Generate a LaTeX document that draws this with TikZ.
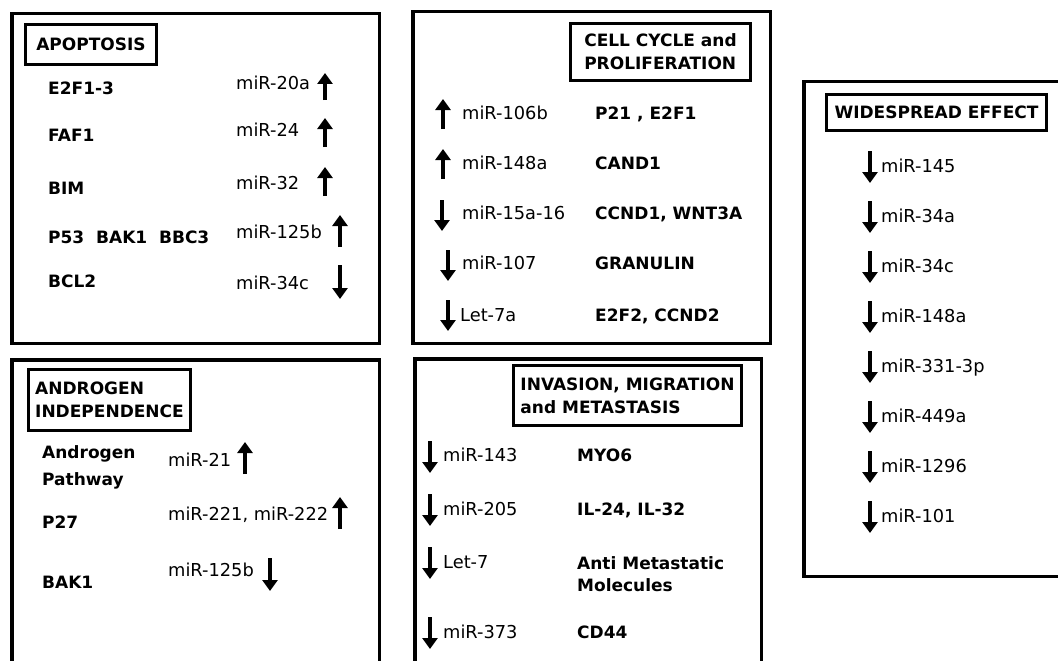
\documentclass[tikz,border=0pt]{standalone}
\usepackage{fontspec}
\setmainfont{DejaVu Sans}
\usetikzlibrary{arrows.meta}
\tikzset{
  panel/.style={draw,line width=3.5pt},
  head/.style={draw,line width=3.5pt,font=\bfseries\fontsize{17}{23}\selectfont,align=left,inner sep=0pt},
  gene/.style={anchor=west,inner sep=0pt,font=\bfseries\fontsize{17}{21}\selectfont,text height=12.4pt,text depth=0pt},
  mir/.style={anchor=west,inner sep=0pt,font=\fontsize{17.8}{21}\selectfont,text height=13pt,text depth=0pt},
  genes/.style={anchor=north west,inner sep=0pt,align=left},
  upar/.style={line width=4.5pt,-{Triangle[width=15pt,length=11pt]}},
  dnar/.style={line width=4.5pt,-{Triangle[width=15pt,length=11pt]}}
}

\begin{document}
\begin{tikzpicture}[x=1pt,y=-1pt,font=\fontsize{17}{21}\selectfont]
\useasboundingbox (0,0) rectangle (1058,661);
% panels
\draw[panel] (11.75,13.75) rectangle (379.25,343.25);
\draw[panel] (412.75,11.75) rectangle (770.25,343.25);
\draw[panel] (11.75,359.75) rectangle (379.25,700);
\draw[panel] (414.75,358.75) rectangle (761.25,700);
\draw[panel] (803.75,81.75) rectangle (1090,576.25);

% apoptosis
\node[head,minimum width=131pt,minimum height=40pt] (apoT) at (91,44.5) {APOPTOSIS};
\node[gene] (a1) at (48,88) {E2F1-3};
\node[gene] (a2) at (48,135) {FAF1};
\node[gene] (a3) at (48,188) {BIM};
\node[gene] (a4) at (48,237) {P53\ \ BAK1\ \ BBC3};
\node[gene] (a5) at (48,281) {BCL2};
\node[mir] (am1) at (236,83) {miR-20a};
\node[mir] (am2) at (236,130) {miR-24};
\node[mir] (am3) at (236,183) {miR-32};
\node[mir] (am4) at (236,232) {miR-125b};
\node[mir] (am5) at (236,283) {miR-34c};
\draw[upar] (325,100) -- (325,73);
\draw[upar] (325,147) -- (325,118);
\draw[upar] (325,196) -- (325,167);
\draw[upar] (340,247) -- (340,215);
\draw[dnar] (340,265) -- (340,299);

% cell cycle
\node[head,minimum width=180pt,minimum height=57pt] (cellT) at (660.5,52) {CELL CYCLE and\\PROLIFERATION};
\node[mir] (cm1) at (462,113) {miR-106b};
\node[mir] (cm2) at (462,163) {miR-148a};
\node[mir] (cm3) at (462,213) {miR-15a-16};
\node[mir] (cm4) at (462,263) {miR-107};
\node[mir] (cm5) at (460,315) {Let-7a};
\node[gene] (c1) at (595,113) {P21 , E2F1};
\node[gene] (c2) at (595,163) {CAND1};
\node[gene] (c3) at (595,213) {CCND1, WNT3A};
\node[gene] (c4) at (595,263) {GRANULIN};
\node[gene] (c5) at (595,315) {E2F2, CCND2};
\draw[upar] (443,129) -- (443,99);
\draw[upar] (443,179) -- (443,149);
\draw[dnar] (442,200) -- (442,231);
\draw[dnar] (448,250) -- (448,281);
\draw[dnar] (448,300) -- (448,331);

% androgen independence
\node[head,minimum width=162pt,minimum height=61pt] (andT) at (109.5,400) {ANDROGEN\\INDEPENDENCE};
\node[genes,font=\bfseries\fontsize{17}{27}\selectfont] (n1) at (42,445) {Androgen\\Pathway};
\node[gene] (n2) at (42,522) {P27};
\node[gene] (n3) at (42,582) {BAK1};
\node[mir] (nm1) at (168,460) {miR-21};
\node[mir] (nm2) at (168,514) {miR-221, miR-222};
\node[mir] (nm3) at (168,570) {miR-125b};
\draw[upar] (245,474) -- (245,442);
\draw[upar] (340,529) -- (340,497);
\draw[dnar] (270,558) -- (270,591);

% invasion
\node[head,minimum width=228pt,minimum height=60pt] (invT) at (627.5,395.5) {INVASION, MIGRATION\\and METASTASIS};
\node[mir] (im1) at (443,455) {miR-143};
\node[mir] (im2) at (443,509) {miR-205};
\node[mir] (im3) at (443,562) {Let-7};
\node[mir] (im4) at (443,632) {miR-373};
\node[gene] (i1) at (577,455) {MYO6};
\node[gene] (i2) at (577,509) {IL-24, IL-32};
\node[genes,font=\bfseries\fontsize{17}{22}\selectfont] (i3) at (577,556) {Anti Metastatic\\Molecules};
\node[gene] (i4) at (577,632) {CD44};
\draw[dnar] (430,441) -- (430,473);
\draw[dnar] (430,494) -- (430,526);
\draw[dnar] (430,547) -- (430,579);
\draw[dnar] (430,617) -- (430,649);

% widespread effect
\node[head,minimum width=220pt,minimum height=36pt] (wideT) at (936.5,112.5) {WIDESPREAD EFFECT};
\node[mir] (w1) at (881,166) {miR-145};
\node[mir] (w2) at (881,216) {miR-34a};
\node[mir] (w3) at (881,266) {miR-34c};
\node[mir] (w4) at (881,316) {miR-148a};
\node[mir] (w5) at (881,366) {miR-331-3p};
\node[mir] (w6) at (881,416) {miR-449a};
\node[mir] (w7) at (881,466) {miR-1296};
\node[mir] (w8) at (881,516) {miR-101};
\foreach \yy in {166,216,...,516}
  \draw[dnar] (870,\yy-15) -- (870,\yy+17);
\end{tikzpicture}
\end{document}
